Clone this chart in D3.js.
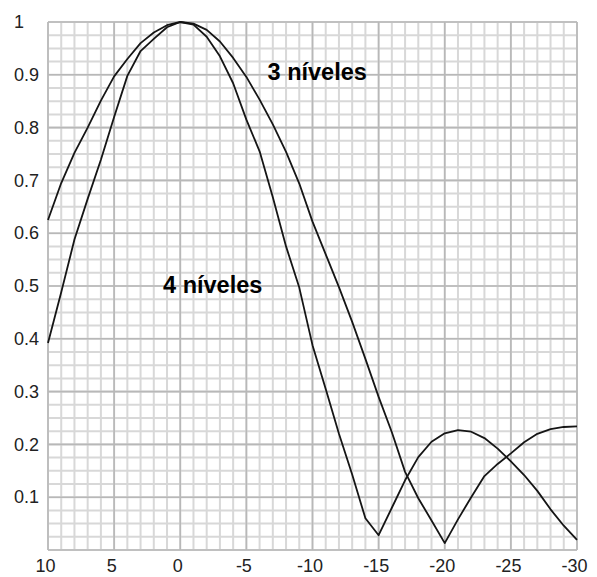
<!DOCTYPE html>
<html>
<head>
<meta charset="utf-8">
<script src="https://cdn.jsdelivr.net/npm/d3@7"></script>
<style>
  body { margin: 0; background: #fff; }
  svg { display: block; }
</style>
</head>
<body>
<div id="chart"></div>
<script>
// angle values (x axis runs from 10 down to -30)
var angles = [10, 9, 8, 7, 6, 5, 4, 3, 2, 1, 0, -1, -2, -3, -4, -5, -6, -7, -8, -9, -10,
              -11, -12, -13, -14, -15, -16, -17, -18, -19, -20,
              -21, -22, -23, -24, -25, -26, -27, -28, -29, -30];

// "3 níveles" curve (wider main lobe)
var niveles3 = [0.625, 0.695, 0.752, 0.800, 0.851, 0.897, 0.930, 0.960, 0.980, 0.994, 1.0,
                0.997, 0.985, 0.963, 0.932, 0.896, 0.853, 0.806, 0.754, 0.694, 0.622,
                0.560, 0.498, 0.432, 0.362, 0.290, 0.223, 0.148, 0.098, 0.056, 0.013,
                0.058, 0.100, 0.140, 0.163, 0.183, 0.204, 0.220, 0.229, 0.233, 0.234];

// "4 níveles" curve (narrower main lobe)
var niveles4 = [0.392, 0.488, 0.588, 0.665, 0.739, 0.820, 0.898, 0.945, 0.968, 0.990, 1.0,
                0.995, 0.972, 0.935, 0.884, 0.815, 0.755, 0.668, 0.575, 0.497, 0.388,
                0.305, 0.220, 0.143, 0.060, 0.028, 0.080, 0.132, 0.176, 0.205, 0.221,
                0.227, 0.224, 0.212, 0.192, 0.168, 0.142, 0.112, 0.077, 0.046, 0.019];

var xTicks = [10, 5, 0, -5, -10, -15, -20, -25, -30];
var yTicks = [0.1, 0.2, 0.3, 0.4, 0.5, 0.6, 0.7, 0.8, 0.9, 1];

var margin = {top: 22, right: 20, bottom: 27, left: 48};
var width = 597 - margin.left - margin.right;
var height = 577 - margin.top - margin.bottom;
var font = "Arial, 'Liberation Sans', sans-serif";

var svg = d3.select("#chart").append("svg")
    .attr("width", 597)
    .attr("height", 577)
  .append("g")
    .attr("transform", "translate(" + margin.left + "," + margin.top + ")");

var x = d3.scaleLinear().domain([10, -30]).range([0, width]);
var y = d3.scaleLinear().domain([0, 1]).range([height, 0]);

// minor grid
var minorX = d3.range(10, -31, -1);
var minorY = d3.range(0, 1.0001, 0.025);

svg.append("g").selectAll("line")
    .data(minorX)
  .enter().append("line")
    .attr("x1", function(d) { return x(d); })
    .attr("x2", function(d) { return x(d); })
    .attr("y1", 0).attr("y2", height)
    .attr("stroke", "#d8d8d8").attr("stroke-width", 2);

svg.append("g").selectAll("line")
    .data(minorY)
  .enter().append("line")
    .attr("y1", function(d) { return y(d); })
    .attr("y2", function(d) { return y(d); })
    .attr("x1", 0).attr("x2", width)
    .attr("stroke", "#d8d8d8").attr("stroke-width", 2);

// major grid
svg.append("g").selectAll("line")
    .data(xTicks)
  .enter().append("line")
    .attr("x1", function(d) { return x(d); })
    .attr("x2", function(d) { return x(d); })
    .attr("y1", 0).attr("y2", height)
    .attr("stroke", "#b8b8b8").attr("stroke-width", 1.6);

svg.append("g").selectAll("line")
    .data([0].concat(yTicks))
  .enter().append("line")
    .attr("y1", function(d) { return y(d); })
    .attr("y2", function(d) { return y(d); })
    .attr("x1", 0).attr("x2", width)
    .attr("stroke", "#b8b8b8").attr("stroke-width", 1.6);

// curves
var line = d3.line()
    .x(function(d) { return x(d[0]); })
    .y(function(d) { return y(d[1]); });

[niveles3, niveles4].forEach(function(vals) {
    svg.append("path")
        .datum(d3.zip(angles, vals))
        .attr("fill", "none")
        .attr("stroke", "#151515")
        .attr("stroke-width", 1.8)
        .attr("stroke-linejoin", "round")
        .attr("d", line);
});

// x axis labels
var xAxis = svg.append("g")
    .attr("transform", "translate(0," + height + ")")
    .call(d3.axisBottom(x).tickValues(xTicks).tickSize(0).tickPadding(9)
        .tickFormat(function(d) { return String(d); }));
xAxis.select(".domain").remove();
xAxis.selectAll("text")
    .attr("dx", -3)
    .style("font-family", font)
    .style("font-size", "18px")
    .style("fill", "#222");

// y axis labels (left aligned)
var yAxis = svg.append("g")
    .call(d3.axisLeft(y).tickValues(yTicks).tickSize(0).tickPadding(0)
        .tickFormat(function(d) { return String(+d.toFixed(1)); }));
yAxis.select(".domain").remove();
yAxis.selectAll("text")
    .attr("text-anchor", "start")
    .attr("x", -margin.left + 14)
    .style("font-family", font)
    .style("font-size", "18px")
    .style("fill", "#222");

// curve labels
svg.append("text")
    .attr("x", x(-6.6))
    .attr("y", y(0.915) + 13)
    .style("font-family", font)
    .style("font-size", "23.5px")
    .style("font-weight", "bold")
    .text("3 níveles");

svg.append("text")
    .attr("x", x(1.3))
    .attr("y", y(0.5) + 7)
    .style("font-family", font)
    .style("font-size", "23.5px")
    .style("font-weight", "bold")
    .text("4 níveles");
</script>
</body>
</html>
